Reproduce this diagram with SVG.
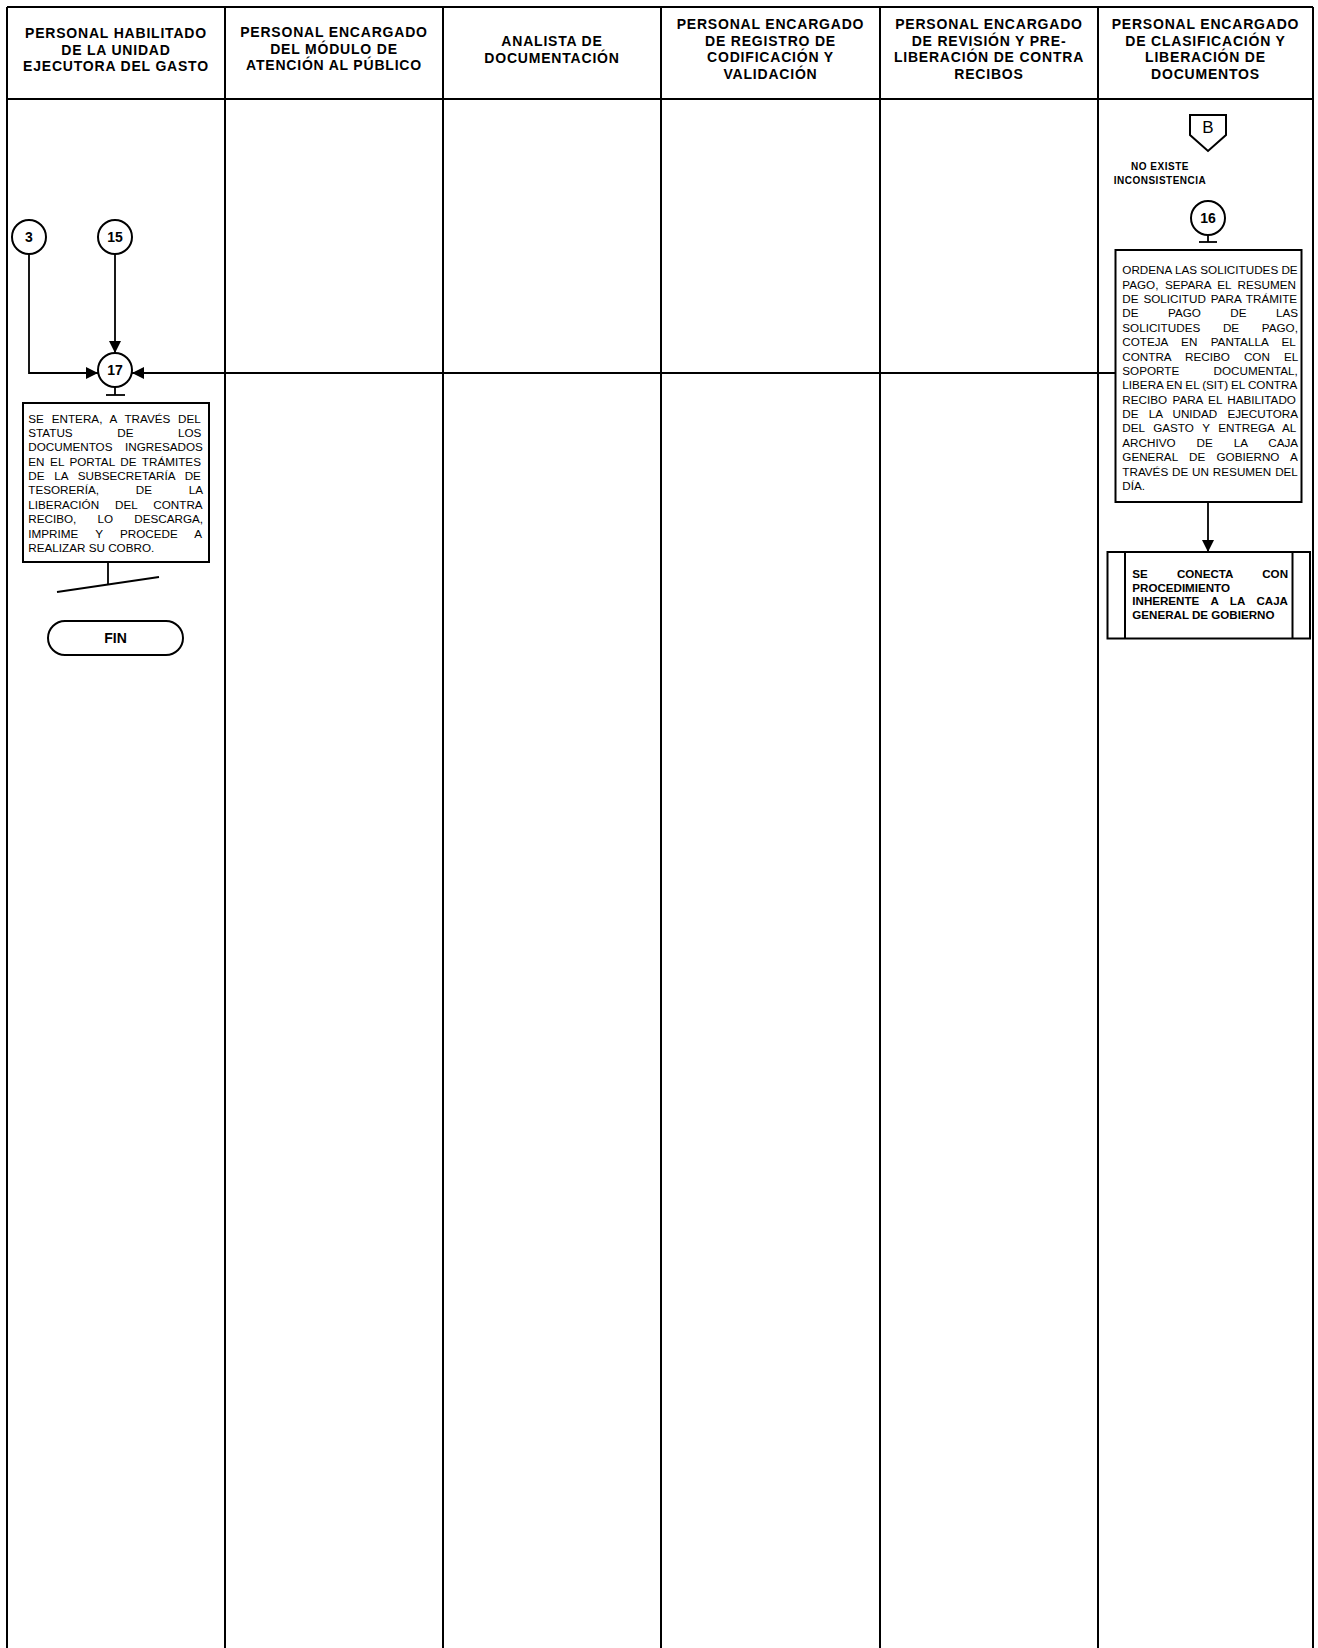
<svg xmlns="http://www.w3.org/2000/svg" width="1318" height="1648" viewBox="0 0 1318 1648">
<style>
.ln{stroke:#000;stroke-width:2;fill:none}
.bx{stroke:#000;stroke-width:2;fill:#fff}
.cn{stroke:#000;stroke-width:1.8;fill:none}
.hd{font-family:"Liberation Sans",Arial,sans-serif;font-weight:bold;font-size:14px;letter-spacing:0.8px;text-anchor:middle;fill:#000}
.tx{font-family:"Liberation Sans",Arial,sans-serif;font-size:11.7px;fill:#000}
.tb{font-family:"Liberation Sans",Arial,sans-serif;font-size:11.6px;font-weight:bold;fill:#000}
.nm{font-family:"Liberation Sans",Arial,sans-serif;font-size:14px;font-weight:bold;text-anchor:middle;fill:#000}
.sm{font-family:"Liberation Sans",Arial,sans-serif;font-size:10px;font-weight:bold;letter-spacing:0.5px;text-anchor:middle;fill:#000}
</style>
<defs>
<marker id="ah" viewBox="0 0 12 12" refX="12" refY="6" markerWidth="12" markerHeight="12" markerUnits="userSpaceOnUse" orient="auto">
<path d="M0,0 L12,6 L0,12 z" fill="#000"/>
</marker>
</defs>
<rect width="1318" height="1648" fill="#fff"/>
<g id="lanes">
<line class="ln" x1="7" y1="7" x2="1313" y2="7"/>
<line class="ln" x1="7" y1="99" x2="1313" y2="99"/>
<line class="ln" x1="7" y1="7" x2="7" y2="1648"/>
<line class="ln" x1="225" y1="7" x2="225" y2="1648"/>
<line class="ln" x1="443" y1="7" x2="443" y2="1648"/>
<line class="ln" x1="661" y1="7" x2="661" y2="1648"/>
<line class="ln" x1="880" y1="7" x2="880" y2="1648"/>
<line class="ln" x1="1098" y1="7" x2="1098" y2="1648"/>
<line class="ln" x1="1313" y1="7" x2="1313" y2="1648"/>
<text class="hd"><tspan x="116" y="38">PERSONAL HABILITADO</tspan><tspan x="116" y="54.5">DE LA UNIDAD</tspan><tspan x="116" y="71">EJECUTORA DEL GASTO</tspan></text>
<text class="hd"><tspan x="334" y="37">PERSONAL ENCARGADO</tspan><tspan x="334" y="53.5">DEL MÓDULO DE</tspan><tspan x="334" y="70">ATENCIÓN AL PÚBLICO</tspan></text>
<text class="hd"><tspan x="552" y="46">ANALISTA DE</tspan><tspan x="552" y="62.5">DOCUMENTACIÓN</tspan></text>
<text class="hd"><tspan x="770.5" y="29">PERSONAL ENCARGADO</tspan><tspan x="770.5" y="45.5">DE REGISTRO DE</tspan><tspan x="770.5" y="62">CODIFICACIÓN Y</tspan><tspan x="770.5" y="78.5">VALIDACIÓN</tspan></text>
<text class="hd"><tspan x="989" y="29">PERSONAL ENCARGADO</tspan><tspan x="989" y="45.5">DE REVISIÓN Y PRE-</tspan><tspan x="989" y="62">LIBERACIÓN DE CONTRA</tspan><tspan x="989" y="78.5">RECIBOS</tspan></text>
<text class="hd"><tspan x="1205.5" y="29">PERSONAL ENCARGADO</tspan><tspan x="1205.5" y="45.5">DE CLASIFICACIÓN Y</tspan><tspan x="1205.5" y="62">LIBERACIÓN DE</tspan><tspan x="1205.5" y="78.5">DOCUMENTOS</tspan></text>
</g>
<g id="connectors">
<polyline class="cn" points="29,254 29,373 98,373" marker-end="url(#ah)"/>
<line class="cn" x1="115" y1="254" x2="115" y2="353" marker-end="url(#ah)"/>
<line class="cn" x1="1115" y1="373" x2="132" y2="373" marker-end="url(#ah)"/>
<line class="cn" x1="1208" y1="502" x2="1208" y2="552" marker-end="url(#ah)"/>
<line class="cn" x1="108" y1="562" x2="108" y2="584.5"/>
<line class="cn" x1="57" y1="592" x2="159" y2="577"/>
</g>
<g id="c3">
<circle class="bx" cx="29" cy="237" r="17"/>
<text class="nm" x="29" y="242">3</text>
</g>
<g id="c15">
<circle class="bx" cx="115" cy="237" r="17"/>
<text class="nm" x="115" y="242">15</text>
</g>
<g id="c17">
<circle class="bx" cx="115" cy="370" r="17"/>
<text class="nm" x="115" y="375">17</text>
<line class="cn" x1="115" y1="387" x2="115" y2="395"/>
<line class="cn" x1="106" y1="395" x2="125" y2="395"/>
</g>
<g id="a17">
<rect class="bx" x="23" y="403" width="186" height="159"/>
<text class="tx">
<tspan x="28.3" y="422.5" word-spacing="4.6">SE ENTERA, A TRAVÉS DEL</tspan>
<tspan x="28.3" y="436.9" word-spacing="41.3">STATUS DE LOS</tspan>
<tspan x="28.3" y="451.2" word-spacing="9.2">DOCUMENTOS INGRESADOS</tspan>
<tspan x="28.3" y="465.6" word-spacing="2.3">EN EL PORTAL DE TRÁMITES</tspan>
<tspan x="28.3" y="480" word-spacing="6.5">DE LA SUBSECRETARÍA DE</tspan>
<tspan x="28.3" y="494.4" word-spacing="33.5">TESORERÍA, DE LA</tspan>
<tspan x="28.3" y="508.7" word-spacing="12.7">LIBERACIÓN DEL CONTRA</tspan>
<tspan x="28.3" y="523.1" word-spacing="17.9">RECIBO, LO DESCARGA,</tspan>
<tspan x="28.3" y="537.5" word-spacing="13.9">IMPRIME Y PROCEDE A</tspan>
<tspan x="28.3" y="551.8">REALIZAR SU COBRO.</tspan>
</text>
</g>
<g id="fin">
<rect class="bx" x="48" y="621" width="135" height="34" rx="17" ry="17"/>
<text class="nm" x="115.5" y="643">FIN</text>
</g>
<g id="offB">
<polygon class="bx" points="1190,115 1226,115 1226,135 1208,151 1190,135"/>
<text x="1208" y="133" font-family="Liberation Sans, Arial, sans-serif" font-size="17" text-anchor="middle">B</text>
</g>
<g id="lblNoExiste">
<text class="sm"><tspan x="1160" y="169.5">NO EXISTE</tspan><tspan x="1160" y="183.5">INCONSISTENCIA</tspan></text>
</g>
<g id="c16">
<circle class="bx" cx="1208" cy="218" r="17"/>
<text class="nm" x="1208" y="223">16</text>
<line class="cn" x1="1208" y1="235" x2="1208" y2="242"/>
<line class="cn" x1="1199" y1="242" x2="1217" y2="242"/>
</g>
<g id="a16">
<rect class="bx" x="1115.5" y="250" width="186" height="252"/>
<text class="tx">
<tspan x="1122.3" y="274.3" word-spacing="0">ORDENA LAS SOLICITUDES DE</tspan>
<tspan x="1122.3" y="288.7" word-spacing="3.2">PAGO, SEPARA EL RESUMEN</tspan>
<tspan x="1122.3" y="303" word-spacing="1.7">DE SOLICITUD PARA TRÁMITE</tspan>
<tspan x="1122.3" y="317.4" word-spacing="26.2">DE PAGO DE LAS</tspan>
<tspan x="1122.3" y="331.8" word-spacing="19.4">SOLICITUDES DE PAGO,</tspan>
<tspan x="1122.3" y="346.1" word-spacing="10.1">COTEJA EN PANTALLA EL</tspan>
<tspan x="1122.3" y="360.5" word-spacing="10.8">CONTRA RECIBO CON EL</tspan>
<tspan x="1122.3" y="374.9" word-spacing="31.1">SOPORTE DOCUMENTAL,</tspan>
<tspan x="1122.3" y="389.3" word-spacing="-0.3">LIBERA EN EL (SIT) EL CONTRA</tspan>
<tspan x="1122.3" y="403.6" word-spacing="2.1">RECIBO PARA EL HABILITADO</tspan>
<tspan x="1122.3" y="418" word-spacing="6.9">DE LA UNIDAD EJECUTORA</tspan>
<tspan x="1122.3" y="432.4" word-spacing="5.3">DEL GASTO Y ENTREGA AL</tspan>
<tspan x="1122.3" y="446.7" word-spacing="17.7">ARCHIVO DE LA CAJA</tspan>
<tspan x="1122.3" y="461.1" word-spacing="8">GENERAL DE GOBIERNO A</tspan>
<tspan x="1122.3" y="475.5" word-spacing="0.6">TRAVÉS DE UN RESUMEN DEL</tspan>
<tspan x="1122.3" y="489.9">DÍA.</tspan>
</text>
</g>
<g id="sub">
<rect class="bx" x="1107.5" y="552" width="202.5" height="86.5"/>
<line class="ln" x1="1125" y1="552" x2="1125" y2="638.5"/>
<line class="ln" x1="1292.5" y1="552" x2="1292.5" y2="638.5"/>
<text class="tb">
<tspan x="1132.3" y="577.8" word-spacing="26">SE CONECTA CON</tspan>
<tspan x="1132.3" y="591.6">PROCEDIMIENTO</tspan>
<tspan x="1132.3" y="605.4" word-spacing="8.3">INHERENTE A LA CAJA</tspan>
<tspan x="1132.3" y="619.2">GENERAL DE GOBIERNO</tspan>
</text>
</g>
</svg>
